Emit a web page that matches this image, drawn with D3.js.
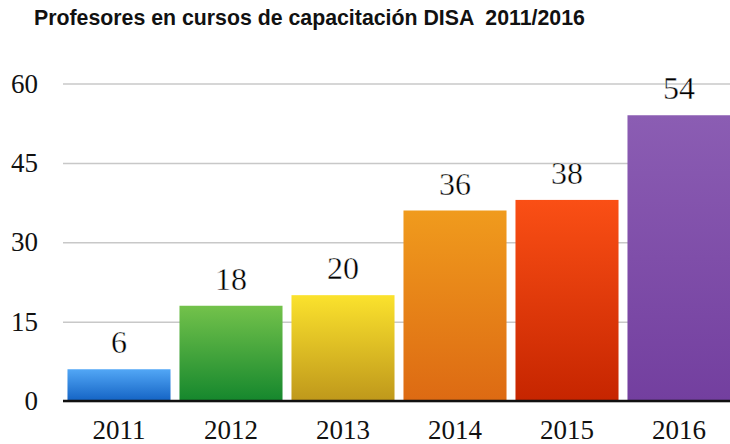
<!DOCTYPE html>
<html>
<head>
<meta charset="utf-8">
<script src="https://cdn.jsdelivr.net/npm/d3@7"></script>
<style>
  body { margin: 0; background: #fff; }
  svg { display: block; }
</style>
</head>
<body>
<svg width="730" height="444"></svg>
<script>
// data
var years = ["2011", "2012", "2013", "2014", "2015", "2016"];
var profesores = [6, 18, 20, 36, 38, 54];
var yTicks = [0, 15, 30, 45, 60];
var topColors = ["#52a7f6", "#73c24b", "#fbe22d", "#f09b1d", "#fa4f15", "#8b5db3"];
var bottomColors = ["#1463c4", "#15872d", "#bf981b", "#dd6a13", "#c62500", "#733f9f"];

var serif = "'Liberation Serif', 'Times New Roman', serif";

var svg = d3.select("svg");

var x = d3.scaleBand()
  .domain(years)
  .range([63, 735])
  .paddingInner(0.08)
  .paddingOuter(0.04);

var y = d3.scaleLinear()
  .domain([0, 60])
  .range([401, 83.5]);

// gradients, one per bar
var defs = svg.append("defs");
years.forEach(function(yr, i) {
  var g = defs.append("linearGradient")
    .attr("id", "grad" + i)
    .attr("x1", 0).attr("y1", 0).attr("x2", 0).attr("y2", 1);
  g.append("stop").attr("offset", "0%").attr("stop-color", topColors[i]);
  g.append("stop").attr("offset", "100%").attr("stop-color", bottomColors[i]);
});

// title
svg.append("text")
  .attr("x", 34)
  .attr("y", 25)
  .attr("font-family", "'Liberation Sans', Arial, sans-serif")
  .attr("font-weight", "bold")
  .attr("font-size", 21.3)
  .attr("fill", "#111")
  .style("white-space", "pre")
  .text("Profesores en cursos de capacitación DISA  2011/2016");

// y axis with gridlines
var yAxis = svg.append("g")
  .attr("transform", "translate(63,0)")
  .call(d3.axisLeft(y).tickValues(yTicks).tickSize(-667).tickPadding(25));
yAxis.select(".domain").remove();
yAxis.selectAll("line").attr("stroke", "#c8c8c8").attr("stroke-width", 1.5);
yAxis.selectAll("text")
  .attr("font-family", serif)
  .attr("font-size", 27)
  .attr("fill", "#111");

// bars
var data = years.map(function(yr, i) { return { year: yr, value: profesores[i], i: i }; });

svg.append("g")
  .selectAll("rect")
  .data(data)
  .join("rect")
    .attr("x", function(d) { return x(d.year); })
    .attr("y", function(d) { return y(d.value); })
    .attr("width", x.bandwidth())
    .attr("height", function(d) { return y(0) - y(d.value); })
    .attr("fill", function(d) { return "url(#grad" + d.i + ")"; });

// value labels
svg.append("g")
  .selectAll("text")
  .data(data)
  .join("text")
    .attr("x", function(d) { return x(d.year) + x.bandwidth() / 2; })
    .attr("y", function(d) { return y(d.value) - 16; })
    .attr("text-anchor", "middle")
    .attr("font-family", serif)
    .attr("font-size", 32)
    .attr("fill", "#000")
    .attr("stroke", "#fff")
    .attr("stroke-width", 0.4)
    .text(function(d) { return d.value; });

// baseline
svg.append("line")
  .attr("x1", 63).attr("x2", 730)
  .attr("y1", y(0)).attr("y2", y(0))
  .attr("stroke", "#111")
  .attr("stroke-width", 2.5);

// x axis labels
var xAxis = svg.append("g")
  .attr("transform", "translate(0," + y(0) + ")")
  .call(d3.axisBottom(x).tickSize(0).tickPadding(19));
xAxis.select(".domain").remove();
xAxis.selectAll("text")
  .attr("font-family", serif)
  .attr("font-size", 27)
  .attr("fill", "#111");
</script>
</body>
</html>
